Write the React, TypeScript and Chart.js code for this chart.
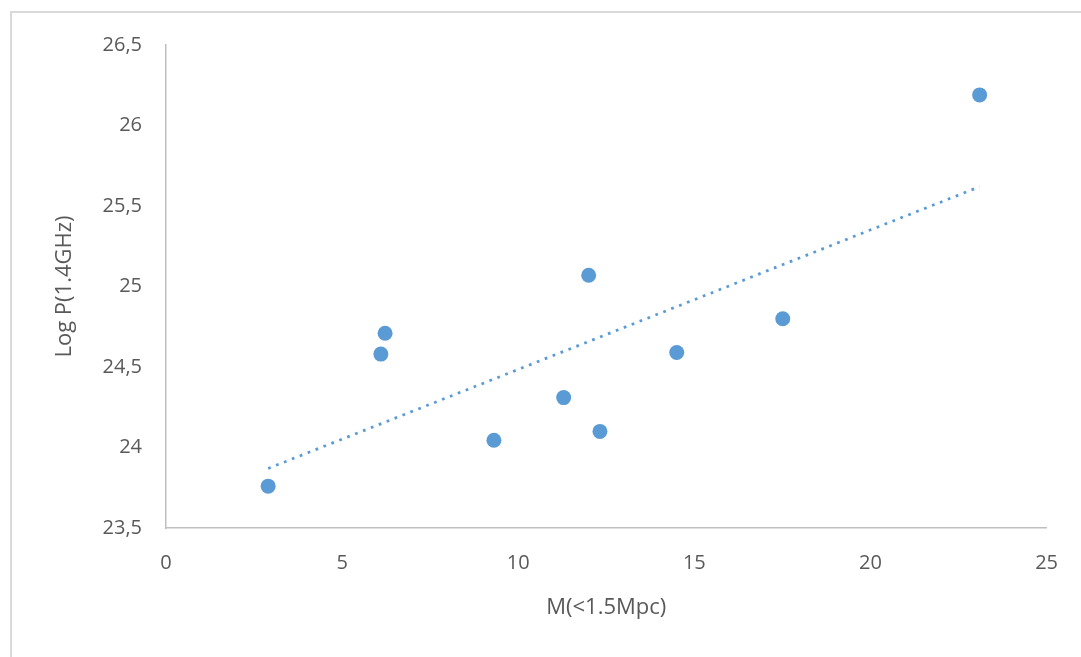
import React, { useEffect, useRef } from "react";
import { Chart, registerables } from "chart.js";

Chart.register(...registerables);

const massX = [2.9, 6.1, 6.22, 9.31, 11.29, 12.32, 12.0, 14.5, 17.51, 23.1];
const logP = [23.76, 24.58, 24.71, 24.045, 24.31, 24.1, 25.07, 24.59, 24.8, 26.19];
const trendX = [2.9, 23.1];
const trendY = [23.87, 25.62];
const xTicks = [0, 5, 10, 15, 20, 25];
const yTicks = [23.5, 24, 24.5, 25, 25.5, 26, 26.5];

const BLUE = "#5b9bd5";
const TEXT = "#595959";
const FONT = "'Open Sans', 'DejaVu Sans', sans-serif";

export default function App() {
  const ref = useRef<HTMLCanvasElement | null>(null);
  useEffect(() => {
    document.body.style.margin = "0";
    const ctx = ref.current!;
    const chart = new Chart(ctx, {
      type: "scatter",
      data: {
        datasets: [
          {
            label: "data",
            data: massX.map((x, i) => ({ x, y: logP[i] })),
            backgroundColor: BLUE,
            borderColor: BLUE,
            borderWidth: 0,
            pointRadius: 7.5,
            pointHoverRadius: 7.5,
            order: 1,
          },
          {
            type: "line",
            label: "trend",
            data: trendX.map((x, i) => ({ x, y: trendY[i] })),
            borderColor: BLUE,
            borderWidth: 2.75,
            borderDash: [2.75, 5.75],
            pointRadius: 0,
            fill: false,
            showLine: true,
            order: 2,
          } as any,
        ],
      },
      options: {
        animation: false,
        responsive: false,
        maintainAspectRatio: false,
        layout: { padding: { left: 0, top: 45, right: 34, bottom: 0 } },
        plugins: { legend: { display: false }, tooltip: { enabled: false } },
        scales: {
          x: {
            type: "linear",
            min: 0,
            max: 25,
            afterBuildTicks: (s: any) => {
              s.ticks = xTicks.map((v) => ({ value: v }));
            },
            afterFit: (s: any) => {
              s.height = 129;
            },
            grid: { display: false, drawTicks: false },
            border: { display: true, color: "#bfbfbf", width: 1.5 },
            ticks: {
              color: TEXT,
              font: { family: FONT, size: 20 },
              padding: 23,
              callback: (v: any) => String(v).replace(".", ","),
            },
            title: {
              display: true,
              text: "M(<1.5Mpc)",
              color: TEXT,
              font: { family: FONT, size: 22 },
              padding: { top: 0, bottom: 36 },
            },
          },
          y: {
            type: "linear",
            min: 23.5,
            max: 26.5,
            afterBuildTicks: (s: any) => {
              s.ticks = yTicks.map((v) => ({ value: v }));
            },
            afterFit: (s: any) => {
              s.width = 166;
            },
            grid: { display: false, drawTicks: false },
            border: { display: true, color: "#bfbfbf", width: 1.5 },
            ticks: {
              color: TEXT,
              font: { family: FONT, size: 20 },
              padding: 24,
              callback: (v: any) => String(v).replace(".", ","),
            },
            title: {
              display: true,
              text: "Log P(1.4GHz)",
              color: TEXT,
              font: { family: FONT, size: 22 },
              padding: { top: 52, bottom: 0 },
            },
          },
        },
      },
    });
    return () => chart.destroy();
  }, []);
  return (
    <div style={{ position: "relative", width: 1081, height: 657, overflow: "hidden", background: "#fff" }}>
      <div
        style={{
          position: "absolute",
          left: 10,
          top: 11,
          width: 1081,
          height: 700,
          border: "2px solid #d9d9d9",
          boxSizing: "border-box",
        }}
      />
      <canvas ref={ref} width={1081} height={657} style={{ position: "absolute", left: 0, top: 0 }} />
    </div>
  );
}
